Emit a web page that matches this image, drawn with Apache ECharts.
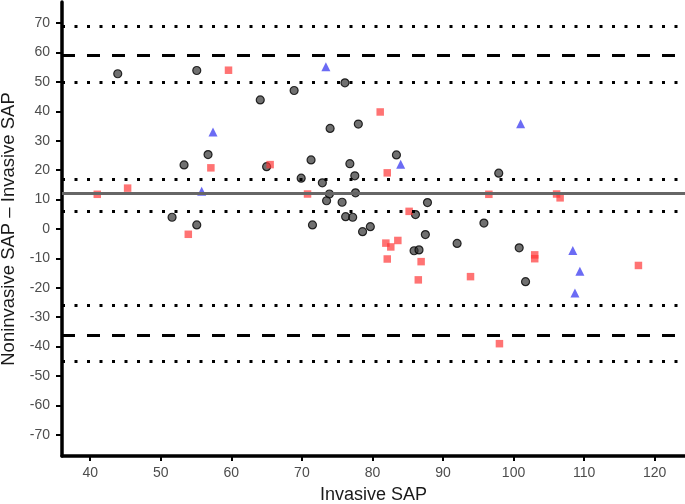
<!DOCTYPE html>
<html>
<head>
<meta charset="utf-8">
<script src="https://cdn.jsdelivr.net/npm/echarts@6/dist/echarts.min.js"></script>
<style>
html,body{margin:0;padding:0;background:#fff;}
#chart{width:685px;height:504px;}
</style>
</head>
<body>
<div id="chart"></div>
<script>
// Tick labels
const xTicks = [40, 50, 60, 70, 80, 90, 100, 110, 120];
const yTicks = [-70, -60, -50, -40, -30, -20, -10, 0, 10, 20, 30, 40, 50, 60, 70];

// Bland-Altman reference values
const meanDiff = 12;
const meanCI = [6, 17];
const limitsOfAgreement = [-36, 59];
const upperLimitCI = [50, 69];
const lowerLimitCI = [-45, -26];

// Series values [Invasive SAP, Noninvasive - Invasive]
const circleGroup = [
  [43.9, 52.8], [55.1, 53.9], [53.3, 21.8], [56.7, 25.3], [51.6, 4.0], [55.1, 1.4],
  [76.1, 49.7], [68.9, 47.1], [64.1, 43.9], [78.0, 35.7], [74.0, 34.2], [71.3, 23.5],
  [65.0, 21.2], [83.4, 25.2], [76.8, 22.2], [77.5, 18.1], [69.9, 17.3], [72.9, 15.7],
  [73.9, 11.9], [77.6, 12.3], [73.5, 9.6], [75.7, 9.1], [87.8, 9.0], [86.1, 4.9],
  [76.2, 4.2], [77.2, 4.0], [71.5, 1.4], [79.7, 0.8], [78.6, -0.9], [87.5, -1.9],
  [92.0, -4.9], [85.9, -7.4], [86.6, -7.1], [97.9, 19.0], [95.8, 2.0], [100.8, -6.4],
  [101.7, -17.9]
];
const squareGroup = [
  [59.6, 54.0], [57.1, 20.8], [41.0, 11.8], [45.3, 13.9], [53.9, -1.8], [81.1, 39.8],
  [65.5, 21.9], [82.1, 19.1], [70.8, 11.9], [85.2, 6.0], [81.9, -4.8], [82.6, -6.1],
  [83.6, -3.9], [82.1, -10.2], [86.9, -11.1], [86.5, -17.3], [93.9, -16.2], [96.5, 11.8],
  [106.1, 11.9], [106.6, 10.6], [103.0, -8.8], [103.0, -10.1], [117.7, -12.4], [98.0, -39.0]
];
const triangleGroup = [
  [57.4, 33.0], [55.8, 12.8], [73.4, 55.2], [84.0, 22.0], [101.0, 35.8],
  [108.4, -7.3], [109.4, -14.4], [108.7, -21.8]
];

const dotted = {type: [3, 9.5], width: 3, color: '#000', cap: 'butt'};
const dashed = {type: [13, 12], width: 3, color: '#000', cap: 'butt'};
const solid = {type: 'solid', width: 3, color: '#666'};

const refLines = [];
refLines.push({yAxis: meanDiff, lineStyle: solid});
meanCI.forEach(v => refLines.push({yAxis: v, lineStyle: dotted}));
limitsOfAgreement.forEach(v => refLines.push({yAxis: v, lineStyle: dashed}));
upperLimitCI.forEach(v => refLines.push({yAxis: v, lineStyle: dotted}));
lowerLimitCI.forEach(v => refLines.push({yAxis: v, lineStyle: dotted}));

const chart = echarts.init(document.getElementById('chart'), null, {renderer: 'canvas'});
const font = 'Liberation Sans, Arial, sans-serif';
chart.setOption({
  animation: false,
  backgroundColor: '#fff',
  grid: {left: 62, right: 0, top: 2, bottom: 48, containLabel: false, outerBoundsMode: 'none'},
  xAxis: {
    type: 'value', min: 36, max: 124.3,
    name: 'Invasive SAP', nameLocation: 'middle', nameGap: 30,
    nameTextStyle: {fontFamily: font, fontSize: 18, color: '#1a1a1a'},
    axisLine: {show: true, onZero: false, lineStyle: {color: '#000', width: 3.5}},
    axisTick: {show: true, customValues: xTicks, length: 5, lineStyle: {color: '#000', width: 2}},
    axisLabel: {customValues: xTicks, fontFamily: font, fontSize: 14, color: '#4d4d4d', margin: 10},
    splitLine: {show: false}
  },
  yAxis: {
    type: 'value', min: -77.2, max: 77.2,
    name: 'Noninvasive SAP \u2013 Invasive SAP', nameLocation: 'middle', nameGap: 40, nameRotate: 90,
    nameTextStyle: {fontFamily: font, fontSize: 18.5, color: '#1a1a1a'},
    axisLine: {show: true, onZero: false, lineStyle: {color: '#000', width: 3.5}},
    axisTick: {show: true, customValues: yTicks, length: 6, lineStyle: {color: '#000', width: 2}},
    axisLabel: {customValues: yTicks, fontFamily: font, fontSize: 14, color: '#4d4d4d', margin: 12},
    splitLine: {show: false}
  },
  series: [
    {
      type: 'scatter', data: [], z: 1, silent: true,
      markLine: {silent: true, symbol: ['none', 'none'], label: {show: false}, data: refLines, animation: false}
    },
    {
      type: 'scatter', data: circleGroup, symbol: 'circle', symbolSize: 8, z: 3,
      itemStyle: {color: 'rgba(45,45,45,0.85)', borderColor: '#000', borderWidth: 1.2}
    },
    {
      type: 'scatter', data: squareGroup, symbol: 'rect', symbolSize: 7.5, z: 3,
      itemStyle: {color: 'rgba(255,55,55,0.88)'}
    },
    {
      type: 'scatter', data: triangleGroup, symbol: 'triangle', symbolSize: 9, z: 3,
      itemStyle: {color: 'rgba(60,60,240,0.95)'}
    }
  ]
});
</script>
</body>
</html>
